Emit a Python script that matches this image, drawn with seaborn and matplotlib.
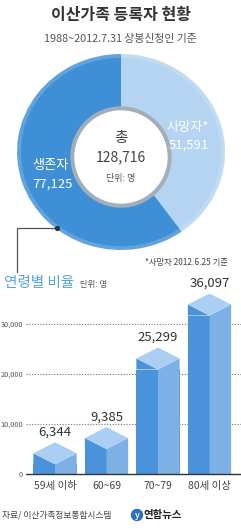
import matplotlib
matplotlib.use("Agg")
import matplotlib.pyplot as plt
import seaborn as sns
import numpy as np
import pandas as pd
from matplotlib.patches import Circle, Polygon, Ellipse

sns.set_style("white")
KR = ['Noto Sans CJK KR', 'DejaVu Sans']
plt.rcParams['font.family'] = KR

# ---- data ----
title = "이산가족 등록자 현황"
subtitle = "1988~2012.7.31 상봉신청인 기준"
donut_labels = ["사망자*", "생존자"]
donut_values = [51591, 77125]
total = 128716
age_cats = ["59세 이하", "60~69", "70~79", "80세 이상"]
age_values = [6344, 9385, 25299, 36097]
y_ticks = [0, 10000, 20000, 30000]
y_ticklabels = ["0", "10,000", "20,000", "30,000"]

W, H = 241, 529
fig = plt.figure(figsize=(W / 100, H / 100), dpi=100)
fig.patch.set_facecolor("white")

def fx(px):
    return px / W

def fy(py):
    return 1 - py / H

DARK = "#3f8fd6"
LIGHT = "#b4d4f1"
LEFT = "#4a93db"
RIGHT = "#7db1e6"
TOP = "#abcff2"

# ---- titles ----
fig.text(fx(121), fy(15), title, ha="center", va="center", fontsize=11.5,
         fontweight="bold", color="#333333", family=KR)
fig.text(fx(120), fy(39), subtitle, ha="center", va="center", fontsize=7.8,
         color="#555555", family=KR)

# ---- donut (slightly elliptical) ----
cx, cy, RX, RY = 121, 152, 104, 98
axd = fig.add_axes([fx(cx - RX), fy(cy + RY), 2 * RX / W, 2 * RY / H])
axd.pie(donut_values, colors=[LIGHT, DARK], startangle=90, counterclock=False,
        radius=1, wedgeprops=dict(width=0.62, edgecolor="none"))
axd.add_patch(Ellipse((0, 0), 2 - 0.035, 2 - 0.035, fill=False, lw=3,
                      ec="white", alpha=0.18))
icx, icy, ir, gr = 121, 157, 46, 50
ex, ey = (icx - cx) / RX, -(icy - cy) / RY
axd.add_patch(Ellipse((ex, ey), 2 * gr / RX, 2 * gr / RY, color="#a3aebb", zorder=3))
axd.add_patch(Ellipse((ex, ey), 2 * ir / RX, 2 * ir / RY, color="white", zorder=4))
axd.set_xlim(-1, 1)
axd.set_ylim(-1, 1)
axd.set_aspect("auto")
axd.axis("off")

def fmt(v):
    return f"{v:,}"

fig.text(fx(121), fy(138), "총", ha="center", va="center", fontsize=10.5,
         color="#444444", family=KR)
fig.text(fx(121), fy(157), fmt(total), ha="center", va="center", fontsize=10,
         color="#444444", family=KR)
fig.text(fx(121), fy(178), "단위: 명", ha="center", va="center", fontsize=6.5,
         color="#555555", family=KR)
fig.text(fx(188), fy(127), donut_labels[0], ha="center", va="center", fontsize=9.5,
         color="white", family=KR)
fig.text(fx(189), fy(145), fmt(donut_values[0]), ha="center", va="center",
         fontsize=9.5, color="white", family=KR)
fig.text(fx(51), fy(166), donut_labels[1], ha="center", va="center", fontsize=9.5,
         color="white", family=KR)
fig.text(fx(52), fy(184), fmt(donut_values[1]), ha="center", va="center",
         fontsize=9.5, color="white", family=KR)

# connector line and dot
fig.add_artist(plt.Line2D([fx(57), fx(17), fx(17)], [fy(228), fy(228), fy(272)],
                          color="#555555", lw=0.9))
fig.add_artist(plt.Line2D([fx(57)], [fy(228)], marker="o", ms=2.8,
                          color="#333333", lw=0))

fig.text(fx(186), fy(263), "*사망자 2012.6.25 기준", ha="center", va="center",
         fontsize=6, color="#444444", style="italic", family=KR)
fig.text(fx(4), fy(283), "연령별 비율", ha="left", va="center", fontsize=10.5,
         color="#5aa3e3", family=KR)
fig.text(fx(80), fy(284), "단위: 명", ha="left", va="center", fontsize=6,
         color="#555555", style="italic", family=KR)

# ---- bars ----
x0, x3 = 55, 209.5
step = (x3 - x0) / 3
ax_l, ax_r = 26, 241
ax_b, ax_t = 474, 290
px_per_unit = 50 / 10000
axb = fig.add_axes([fx(ax_l), fy(ax_b), (ax_r - ax_l) / W, (ax_b - ax_t) / H])
axb.set_facecolor("none")

w = 0.42        # half width in category units
h = 2200        # half height of top rhombus in data units
vals = np.array(age_values, dtype=float)
df = pd.DataFrame({"cat": age_cats, "front": vals - 2 * h})
sns.barplot(data=df, x="cat", y="front", color=LEFT, width=2 * w,
            saturation=1, ax=axb, zorder=3, edgecolor="none")
for i, v in enumerate(vals):
    axb.add_patch(Polygon([(i - w, v - 2 * h), (i - w, v - h), (i, v - 2 * h)],
                          closed=True, fc=LEFT, ec="none", zorder=3))
    axb.add_patch(Polygon([(i, 0), (i + w, 0), (i + w, v - h), (i, v - 2 * h)],
                          closed=True, fc=RIGHT, ec="none", zorder=3))
    axb.add_patch(Polygon([(i - w, v - h), (i, v), (i + w, v - h), (i, v - 2 * h)],
                          closed=True, fc=TOP, ec="none", zorder=3))
    axb.text(i, v + 2000, fmt(int(v)), ha="center", va="center", fontsize=9.5,
             color="#333333", family=KR)

axb.set_xlim(-(x0 - ax_l) / step, 3 + (ax_r - x3) / step)
axb.set_ylim(0, (ax_b - ax_t) / px_per_unit)
axb.set_yticks(y_ticks)
axb.set_yticklabels(y_ticklabels, fontsize=5.3, color="#555555")
for t in y_ticks[1:]:
    axb.axhline(t, color="#777777", lw=0.8, ls=(0, (1, 1.5)), zorder=1)
axb.axhline(0, color="#333333", lw=1.0, zorder=4, clip_on=False)
axb.set_xlabel("")
axb.set_ylabel("")
axb.tick_params(axis="x", length=0, pad=5, labelsize=7.5, labelcolor="#444444")
axb.tick_params(axis="y", length=0, pad=2)
for s in axb.spines.values():
    s.set_visible(False)

# ---- footer ----
fig.text(fx(2), fy(515), "자료/ 이산가족정보통합시스템", ha="left", va="center",
         fontsize=6.3, color="#444444", style="italic", family=KR)
fig.add_artist(Ellipse((fx(137), fy(515)), 11 / W, 11 / H, transform=fig.transFigure,
                       color="#2a6fc4"))
fig.text(fx(137), fy(515), "y", ha="center", va="center", fontsize=6,
         color="white", fontweight="bold", style="italic", family=KR)
fig.text(fx(143), fy(515), "연합뉴스", ha="left", va="center", fontsize=7.5,
         color="#222222", fontweight="bold", family=KR)

fig.savefig("out.png", dpi=100, facecolor="white")
